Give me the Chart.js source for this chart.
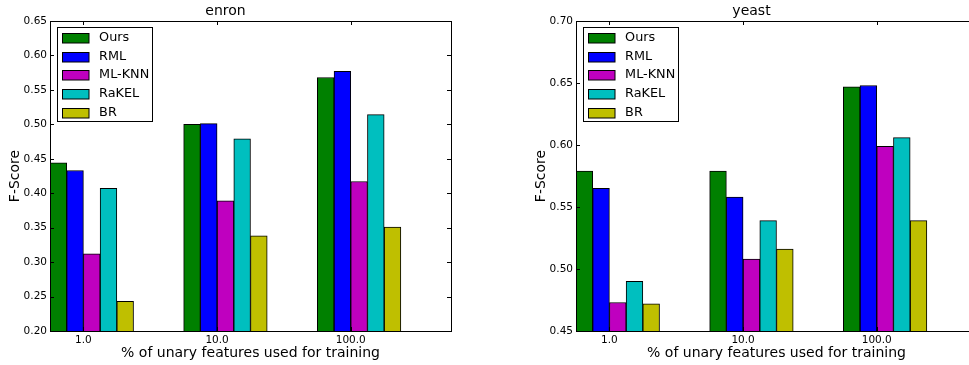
<!DOCTYPE html>
<html>
<head>
<meta charset="utf-8">
<script src="https://cdn.jsdelivr.net/npm/chart.js@4.4.1/dist/chart.umd.min.js"></script>
<style>
  html, body { margin: 0; padding: 0; background: #fff; overflow: hidden; }
  body { width: 969px; height: 365px; position: relative; }
  canvas { position: absolute; top: 0; }
  #enron { left: 0; }
  #yeast { left: 526px; }
</style>
</head>
<body>
<canvas id="enron" width="501" height="365"></canvas>
<canvas id="yeast" width="501" height="365"></canvas>
<script>
// % of unary features used for training
const categories = ['1.0', '10.0', '100.0'];
const methods = ['Ours', 'RML', 'ML-KNN', 'RaKEL', 'BR'];
const colors = ['#008000', '#0000ff', '#bf00bf', '#00bfbf', '#bfbf00'];

// enron F-scores
const enronOurs = [0.444, 0.500, 0.568];
const enronRML = [0.433, 0.501, 0.577];
const enronMLKNN = [0.312, 0.389, 0.417];
const enronRaKEL = [0.407, 0.479, 0.514];
const enronBR = [0.243, 0.338, 0.351];
const enronTicks = [0.20, 0.25, 0.30, 0.35, 0.40, 0.45, 0.50, 0.55, 0.60, 0.65];

// yeast F-scores
const yeastOurs = [0.579, 0.579, 0.647];
const yeastRML = [0.565, 0.558, 0.648];
const yeastMLKNN = [0.473, 0.508, 0.599];
const yeastRaKEL = [0.490, 0.539, 0.606];
const yeastBR = [0.472, 0.516, 0.539];
const yeastTicks = [0.45, 0.50, 0.55, 0.60, 0.65, 0.70];

// each group has 8 bar slots, 5 used (matplotlib width = 0.125)
const SLOTS = 8;

Chart.defaults.font.family = '"DejaVu Sans", sans-serif';
Chart.defaults.color = '#000';

// axes frame plus inward tick marks on all four sides
const frame = {
  id: 'frame',
  afterDraw(chart) {
    const {ctx, chartArea: a, scales} = chart;
    ctx.save();
    ctx.strokeStyle = '#000';
    ctx.lineWidth = 1;
    ctx.beginPath();
    scales.y.ticks.forEach(t => {
      const py = Math.round(scales.y.getPixelForValue(t.value)) + 0.5;
      ctx.moveTo(a.left, py); ctx.lineTo(a.left + 4, py);
      ctx.moveTo(a.right, py); ctx.lineTo(a.right - 4, py);
    });
    scales.xt.ticks.forEach(t => {
      const px = Math.round(scales.xt.getPixelForValue(t.value)) + 0.5;
      ctx.moveTo(px, a.top); ctx.lineTo(px, a.top + 4);
      ctx.moveTo(px, a.bottom); ctx.lineTo(px, a.bottom - 4);
    });
    ctx.stroke();
    ctx.strokeRect(Math.round(a.left) + 0.5, Math.round(a.top) + 0.5,
      Math.round(a.right - a.left), Math.round(a.bottom - a.top));
    ctx.restore();
  }
};

// matplotlib-style legend box in the upper left of the axes
const boxLegend = {
  id: 'boxLegend',
  afterDraw(chart) {
    const {ctx, chartArea: a} = chart;
    const items = chart.data.datasets.filter(d => d.label);
    const x0 = Math.round(a.left + 6.7) + 0.5;
    const y0 = Math.round(a.top + 6.3) + 0.5;
    ctx.save();
    ctx.fillStyle = '#fff';
    ctx.fillRect(x0, y0, 95, 94);
    ctx.strokeStyle = '#000';
    ctx.lineWidth = 1;
    ctx.strokeRect(x0, y0, 95, 94);
    ctx.font = '12.8px "DejaVu Sans"';
    ctx.textBaseline = 'middle';
    items.forEach((d, i) => {
      const cy = y0 + 10.2 + i * 18.67;
      ctx.fillStyle = d.backgroundColor;
      ctx.fillRect(x0 + 5, Math.round(cy - 4.8) + 0.5, 26.5, 9.5);
      ctx.strokeRect(x0 + 5, Math.round(cy - 4.8) + 0.5, 26.5, 9.5);
      ctx.fillStyle = '#000';
      ctx.fillText(d.label, x0 + 41.6, cy);
    });
    ctx.restore();
  }
};

function makeChart(id, title, series, ticks) {
  const datasets = series.map((values, i) => ({
    label: methods[i],
    data: values,
    backgroundColor: colors[i],
    borderColor: '#000',
    borderWidth: 1,
    categoryPercentage: 1,
    barPercentage: 1
  }));
  // empty slots after the 5 bars, so each group is left-aligned like matplotlib
  for (let i = methods.length; i < SLOTS; i++) {
    datasets.push({ data: categories.map(() => null), categoryPercentage: 1, barPercentage: 1 });
  }
  return new Chart(document.getElementById(id), {
    type: 'bar',
    data: { labels: categories, datasets },
    plugins: [frame, boxLegend],
    options: {
      responsive: false,
      animation: false,
      devicePixelRatio: 1,
      layout: { padding: { left: 0, right: 50, top: 0, bottom: 0 } },
      plugins: {
        legend: { display: false },
        tooltip: { enabled: false },
        title: {
          display: true,
          text: title,
          color: '#000',
          font: { size: 14, weight: 'normal', lineHeight: 1.2 },
          padding: { top: 3, bottom: 1.2 }
        }
      },
      scales: {
        x: { type: 'category', display: false, offset: true },
        xt: {
          type: 'linear',
          position: 'bottom',
          offset: false,
          min: 0,
          max: categories.length,
          grid: { display: false, drawTicks: false, offset: false },
          border: { display: false },
          afterBuildTicks: s => {
            // tick sits between the 2nd and 3rd bar of each group
            s.ticks = categories.map((c, i) => ({ value: i + 2 / SLOTS }));
          },
          afterFit: s => { s.height = 34; },
          ticks: {
            padding: 3,
            maxRotation: 0,
            autoSkip: false,
            font: { size: 10.5 },
            callback: (v, i) => categories[i]
          },
          title: {
            display: true,
            text: '% of unary features used for training',
            font: { size: 14, lineHeight: 1.2 },
            padding: { top: 0, bottom: 3.6 }
          }
        },
        y: {
          offset: false,
          min: ticks[0],
          max: ticks[ticks.length - 1],
          grid: { display: false, drawTicks: false },
          border: { display: false },
          afterBuildTicks: s => { s.ticks = ticks.map(v => ({ value: v })); },
          afterFit: s => { s.width = 50; },
          ticks: {
            padding: 3,
            font: { size: 10.5 },
            callback: v => v.toFixed(2)
          },
          title: {
            display: true,
            text: 'F-Score',
            font: { size: 14, lineHeight: 1.2 },
            padding: { top: 6.6, bottom: 0 }
          }
        }
      }
    }
  });
}

makeChart('enron', 'enron', [enronOurs, enronRML, enronMLKNN, enronRaKEL, enronBR], enronTicks);
makeChart('yeast', 'yeast', [yeastOurs, yeastRML, yeastMLKNN, yeastRaKEL, yeastBR], yeastTicks);
</script>
</body>
</html>
